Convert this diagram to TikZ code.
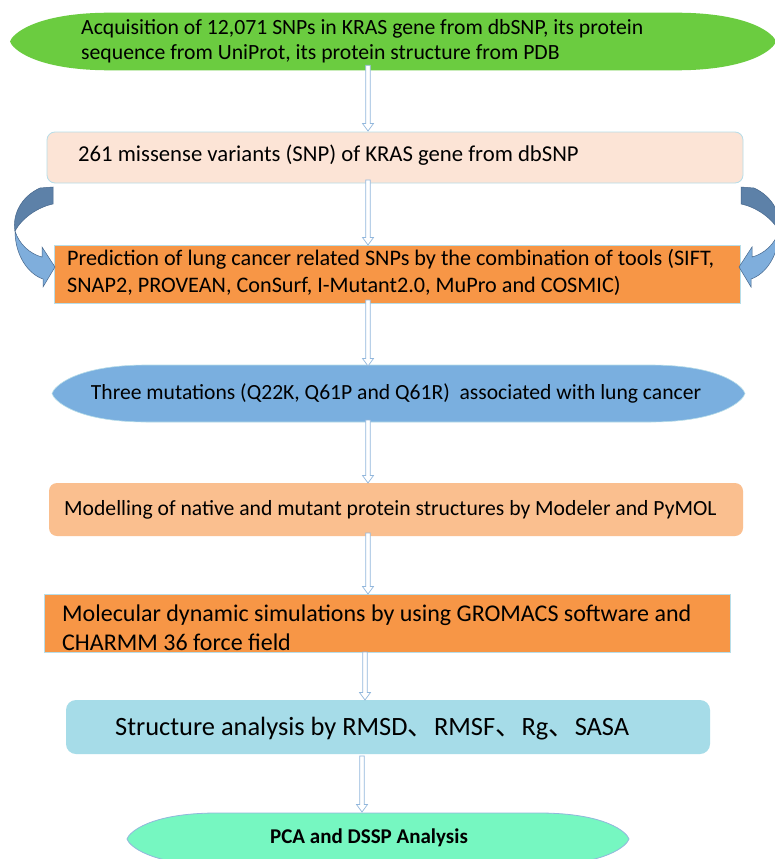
\documentclass[tikz,border=0pt]{standalone}
\usepackage{fontspec}
\setmainfont{Carlito}
\newfontfamily\cjkf{Noto Sans CJK SC}
\usetikzlibrary{calc}
\pgfdeclarelayer{bg}
\pgfsetlayers{bg,main}
\definecolor{cgreen}{HTML}{6BCC40}
\definecolor{cpeach}{HTML}{FCE4D6}
\definecolor{corange}{HTML}{F79646}
\definecolor{cblue}{HTML}{7AAFDF}
\definecolor{clorange}{HTML}{FABF8F}
\definecolor{ccyan}{HTML}{A6DCE8}
\definecolor{cmint}{HTML}{76F7C1}
\definecolor{cborder}{HTML}{B7DDE8}
\definecolor{arrowc}{HTML}{92B7DC}
\definecolor{cdark}{HTML}{5D81A8}
\definecolor{clight}{HTML}{7FAEDC}
\definecolor{cline}{HTML}{46678C}
\newcommand\blob[3]{%
  \begin{pgfonlayer}{bg}
  \path[#3] (#1.west)
   .. controls ($(#1.west)!0.25!(#1.north west)+(2pt,0)$) and ($(#1.north west)+(0.25*#2pt,0)$) .. ($(#1.north west)+(#2pt,0)$)
   -- ($(#1.north east)-(#2pt,0)$)
   .. controls ($(#1.north east)-(0.25*#2pt,0)$) and ($(#1.east)!0.25!(#1.north east)-(2pt,0)$) .. (#1.east)
   .. controls ($(#1.east)!0.25!(#1.south east)-(2pt,0)$) and ($(#1.south east)-(0.25*#2pt,0)$) .. ($(#1.south east)-(#2pt,0)$)
   -- ($(#1.south west)+(#2pt,0)$)
   .. controls ($(#1.south west)+(0.25*#2pt,0)$) and ($(#1.west)!0.25!(#1.south west)+(2pt,0)$) .. (#1.west) -- cycle;
  \end{pgfonlayer}}
\newcommand\curvarrow{%
  \filldraw[draw=cline, fill=cdark, line width=0.5pt] (40,188) -- (53,187) -- (53,204)
    .. controls (38,207) and (22,218) .. (15,231)
    .. controls (12,214) and (22,196) .. (40,188) -- cycle;
  \filldraw[draw=cline, fill=clight, line width=0.5pt] (15,231)
    .. controls (15,255) and (28,274) .. (43,279) -- (43,287) -- (55,267) -- (42,247) -- (42,257)
    .. controls (30,254) and (19,244) .. (15,231) -- cycle;}
\tikzset{
  shapebox/.style={rectangle, inner sep=0pt, outer sep=0pt},
  txt/.style={inner sep=0pt, align=left, text=black},
  flowarrow/.style={draw=arrowc, fill=white, line width=0.7pt,
    to path={let \p1=(\tikztostart), \p2=(\tikztotarget) in
      (\x1-2.3pt,\y1) -- (\x1-2.3pt,\y2+7.5pt) -- (\x1-5.5pt,\y2+7.5pt) -- (\x1,\y2)
      -- (\x1+5.5pt,\y2+7.5pt) -- (\x1+2.3pt,\y2+7.5pt) -- (\x1+2.3pt,\y1) -- cycle}},
}
\begin{document}
\begin{tikzpicture}[x=1pt,y=-1pt]
\begin{pgfonlayer}{bg}
\fill[white] (0,0) rectangle (774,859);
\end{pgfonlayer}
\useasboundingbox (0,0) rectangle (774,859);
% shapes
\node[shapebox, minimum width=766pt, minimum height=57.6pt] (g1) at (393,41.5) {};
\blob{g1}{100}{fill=cgreen}
\node[shapebox, fill=cpeach, draw=cborder, line width=0.8pt, rounded corners=8pt, minimum width=696pt, minimum height=51pt] (p2) at (395,157.5) {};
\node[shapebox, fill=corange, draw=cborder, line width=0.8pt, minimum width=686pt, minimum height=58pt] (p3) at (397,274) {};
\node[shapebox, minimum width=693pt, minimum height=57pt] (e4) at (398.5,393.5) {};
\blob{e4}{95}{fill=cblue, draw=cborder, line width=0.6pt}
\node[shapebox, fill=clorange, rounded corners=8pt, minimum width=694pt, minimum height=53pt] (p5) at (396,509.5) {};
\node[shapebox, fill=corange, draw=cborder, line width=0.8pt, minimum width=686pt, minimum height=58pt] (p6) at (387,623) {};
\node[shapebox, fill=ccyan, rounded corners=10pt, minimum width=644pt, minimum height=54pt] (p7) at (388,727) {};
\node[shapebox, minimum width=502pt, minimum height=52pt] (e8) at (378,839) {};
\blob{e8}{90}{fill=cmint, draw=arrowc, line width=0.8pt}
% texts
\node[txt, anchor=west, font=\fontsize{21.7}{25}\selectfont] (t1) at (81,41)
  {Acquisition of 12,071 SNPs in KRAS gene from dbSNP, its protein\\sequence from UniProt, its protein structure from PDB};
\node[txt, anchor=west, font=\fontsize{22.7}{26}\selectfont] (t2) at (78,155)
  {261 missense variants (SNP) of KRAS gene from dbSNP};
\node[txt, anchor=west, font=\fontsize{22.2}{27}\selectfont] (t3) at (67,272.5)
  {Prediction of lung cancer related SNPs by the combination of tools (SIFT,\\SNAP2, PROVEAN, ConSurf, I-Mutant2.0, MuPro and COSMIC)};
\node[txt, font=\fontsize{21.6}{25}\selectfont] (t4) at (396,393)
  {Three mutations (Q22K, Q61P and Q61R)\ \ associated with lung cancer};
\node[txt, anchor=west, font=\fontsize{21.65}{25}\selectfont] (t5) at (64,510)
  {Modelling of native and mutant protein structures by Modeler and PyMOL};
\node[txt, anchor=west, font=\fontsize{24}{29}\selectfont] (t6) at (62,628)
  {Molecular dynamic simulations by using GROMACS software and\\CHARMM 36 force field};
\node[txt, anchor=west, font=\fontsize{26.4}{30}\selectfont] (t7) at (115,729)
  {Structure analysis by RMSD{\cjkf 、}RMSF{\cjkf 、}Rg{\cjkf 、}SASA};
\node[txt, font=\bfseries\fontsize{21}{24}\selectfont] (t8) at (369,838)
  {PCA and DSSP Analysis};
% curved arrows
\curvarrow
\begin{scope}[shift={(794,0)}, xscale=-1]
\curvarrow
\end{scope}
% flow arrows
\coordinate (ax) at (368,0);
\coordinate (bx) at (365,0);
\coordinate (cx) at (362,0);
\draw[flowarrow] ([yshift=5pt]g1.south -| ax) to ([yshift=1pt]p2.north -| ax);
\draw[flowarrow] ([yshift=3pt]p2.south -| ax) to (p3.north -| ax);
\draw[flowarrow] ([yshift=3pt]p3.south -| ax) to ([yshift=-1pt]e4.north -| ax);
\draw[flowarrow] ([yshift=2pt]e4.south -| ax) to (p5.north -| ax);
\draw[flowarrow] ([yshift=3pt]p5.south -| ax) to (p6.north -| ax);
\draw[flowarrow] (p6.south -| bx) to (p7.north -| bx);
\draw[flowarrow] ([yshift=-2pt]p7.south -| cx) to ([yshift=1pt]e8.north -| cx);
\end{tikzpicture}
\end{document}
